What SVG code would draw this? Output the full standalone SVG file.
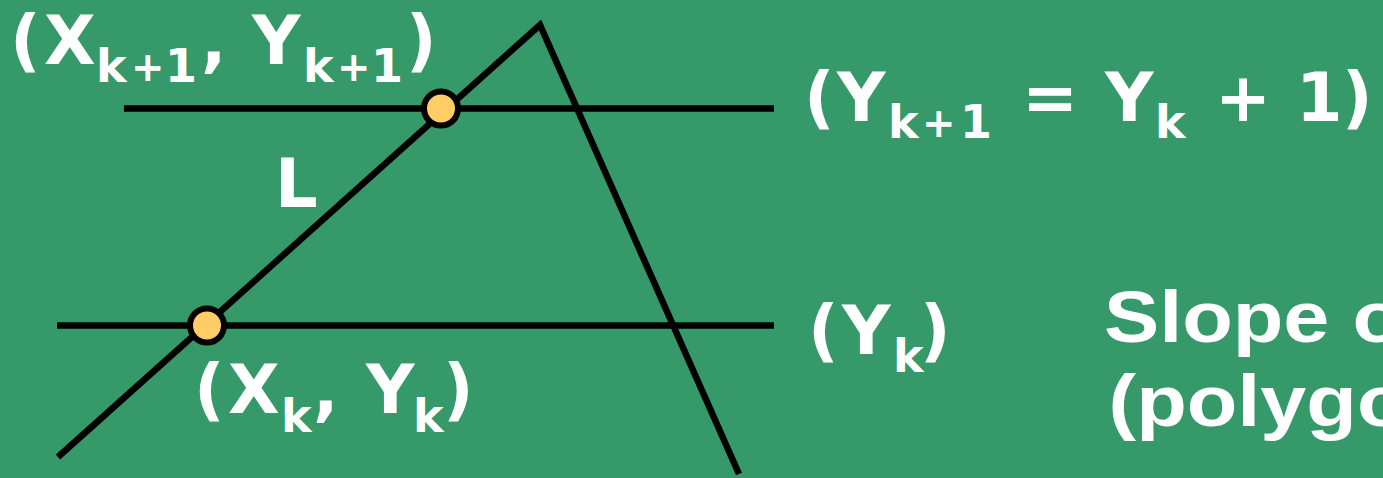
<svg xmlns="http://www.w3.org/2000/svg" width="1383" height="478" viewBox="0 0 1383 478">
<style>
.bg{fill:#36996A}
.ln{stroke:#000;stroke-width:6.5;fill:none;stroke-linecap:butt}
.pt{fill:#FFCC66;stroke:#000;stroke-width:6}
.lb{font-family:"DejaVu Sans",Verdana,sans-serif;font-weight:bold;fill:#fff;font-size:67px}
.sb{font-size:46px}
.sp{font-size:40px}
.ar{font-family:"Liberation Sans",Arial,sans-serif;font-weight:bold;fill:#fff;font-size:72px}
</style>
<rect class="bg" x="0" y="0" width="1383" height="478"/>
<g id="connectors">
<line class="ln" x1="124" y1="108.5" x2="774" y2="108.5"/>
<line class="ln" x1="57" y1="325.5" x2="774" y2="325.5"/>
<polyline class="ln" points="58,457 540,25 739,474" stroke-linejoin="miter"/>
</g>
<g id="point-top"><circle class="pt" cx="441" cy="108.5" r="17"/></g>
<g id="point-bottom"><circle class="pt" cx="207" cy="325.5" r="17"/></g>
<g id="label-L"><text class="lb" x="275" y="207">L</text></g>
<g id="label-xk1">
<text class="lb"><tspan class="sb" x="96" y="82">k</tspan><tspan class="sp" x="131" y="81">+</tspan><tspan class="sb" x="165" y="82">1</tspan><tspan x="10" y="64">(</tspan><tspan x="44" y="64">X</tspan><tspan x="201" y="64">,</tspan><tspan x="252" y="64">Y</tspan><tspan class="sb" x="303" y="82">k</tspan><tspan class="sp" x="337" y="81">+</tspan><tspan class="sb" x="371" y="82">1</tspan><tspan x="406" y="64">)</tspan></text>
</g>
<g id="label-yk1">
<text class="lb"><tspan x="804" y="121">(</tspan><tspan x="837" y="121">Y</tspan><tspan class="sb" x="888" y="138">k</tspan><tspan class="sp" x="922" y="137">+</tspan><tspan class="sb" x="960" y="138">1</tspan><tspan x="1022" y="121">=</tspan><tspan x="1105" y="121">Y</tspan><tspan class="sb" x="1155" y="138">k</tspan><tspan x="1215" y="121">+</tspan><tspan x="1296" y="121">1</tspan><tspan x="1342" y="121">)</tspan></text>
</g>
<g id="label-yk">
<text class="lb"><tspan x="808" y="354">(</tspan><tspan x="842" y="354">Y</tspan><tspan class="sb" x="893" y="372">k</tspan><tspan x="920" y="354">)</tspan></text>
</g>
<g id="label-xk">
<text class="lb"><tspan x="194" y="413">(</tspan><tspan x="228" y="413">X</tspan><tspan class="sb" x="281" y="432">k</tspan><tspan x="313" y="413">,</tspan><tspan x="366" y="413">Y</tspan><tspan class="sb" x="413" y="432">k</tspan><tspan x="443" y="413">)</tspan></text>
</g>
<g id="label-slope">
<text class="ar" transform="matrix(1.15 0 0 1 0 0)"><tspan x="960" y="342">Slope o</tspan><tspan x="964" y="426">(polygo</tspan></text>
</g>
</svg>
